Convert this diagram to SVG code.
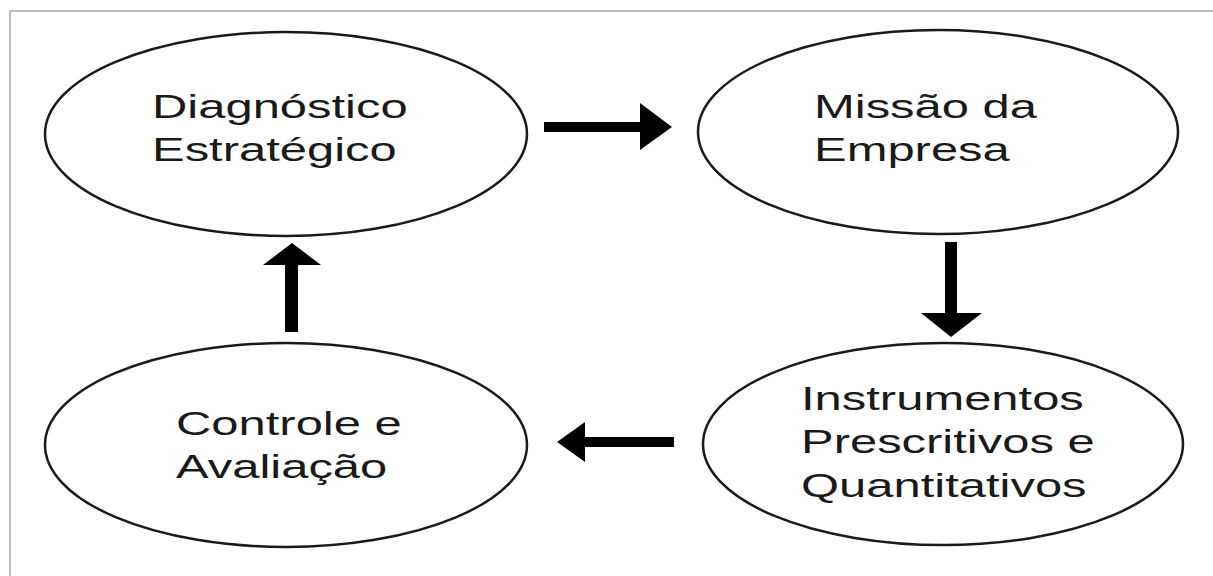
<svg xmlns="http://www.w3.org/2000/svg" width="1213" height="576" viewBox="0 0 1213 576">
<style>
.node ellipse{fill:#fff;stroke:#1a1a1a;stroke-width:2.5}
.node text{font-family:"Liberation Sans",Arial,sans-serif;font-size:34px;fill:#1a1a1a}
.conn{fill:#000;stroke:none}
</style>
<rect x="0" y="0" width="1213" height="576" fill="#fff"/>
<rect x="10" y="11" width="1230" height="600" fill="none" stroke="#bdbdbd" stroke-width="2"/>
<g id="n-diagnostico" class="node">
<ellipse cx="286" cy="134" rx="241" ry="102"/>
<text transform="translate(152,118) scale(1.44 1)"><tspan x="0" y="0">Diagnóstico</tspan><tspan x="0" y="43">Estratégico</tspan></text>
</g>
<g id="n-missao" class="node">
<ellipse cx="938" cy="132" rx="240" ry="102"/>
<text transform="translate(814,118) scale(1.44 1)"><tspan x="0" y="0">Missão da</tspan><tspan x="0" y="43">Empresa</tspan></text>
</g>
<g id="n-instrumentos" class="node">
<ellipse cx="943" cy="444" rx="240" ry="101"/>
<text transform="translate(801,410) scale(1.44 1)"><tspan x="0" y="0">Instrumentos</tspan><tspan x="0" y="43.5">Prescritivos e</tspan><tspan x="0" y="87">Quantitativos</tspan></text>
</g>
<g id="n-controle" class="node">
<ellipse cx="286" cy="445" rx="241" ry="102"/>
<text transform="translate(176,435) scale(1.44 1)"><tspan x="0" y="0">Controle e</tspan><tspan x="0" y="43">Avaliação</tspan></text>
</g>
<g id="connectors">
<g class="conn">
<rect x="544" y="122" width="98" height="10"/>
<polygon points="640,103 672,127 640,150"/>
</g>
<g class="conn">
<rect x="945" y="242" width="12" height="73"/>
<polygon points="921,313 982,313 951,337"/>
</g>
<g class="conn">
<rect x="583" y="437" width="91" height="10"/>
<polygon points="585,422 557,442 585,462"/>
</g>
<g class="conn">
<rect x="285" y="263" width="13" height="69"/>
<polygon points="263,265 321,265 292,243"/>
</g>
</g>
</svg>
